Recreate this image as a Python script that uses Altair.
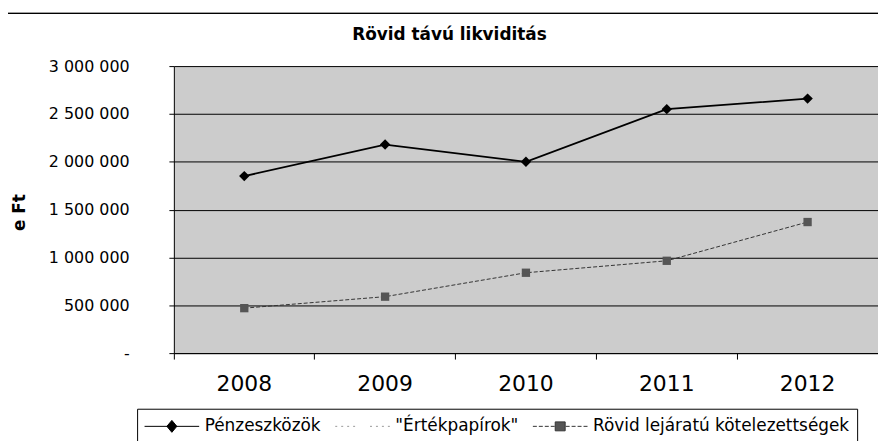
import altair as alt
import pandas as pd

years = ["2008", "2009", "2010", "2011", "2012"]
penzeszkozok = [1850000, 2180000, 2000000, 2550000, 2660000]
rovid = [470000, 590000, 840000, 965000, 1370000]
series_names = ["Pénzeszközök", "\"Értékpapírok\"", "Rövid lejáratú kötelezettségek"]
y_ticks = [0, 500000, 1000000, 1500000, 2000000, 2500000, 3000000]

rows = []
for i, yr in enumerate(years):
    rows.append({"year": yr, "series": series_names[0], "value": penzeszkozok[i]})
    rows.append({"year": yr, "series": series_names[2], "value": rovid[i]})
df = pd.DataFrame(rows)

FONT = "DejaVu Sans"
NB = "\u00a0"

x_enc = alt.X(
    "year:O",
    scale=alt.Scale(type="band", domain=years, paddingInner=0, paddingOuter=0),
    axis=alt.Axis(
        title=None, bandPosition=0, labelAngle=0,
        labelFont=FONT, labelFontSize=22, labelColor="black",
        tickSize=6, tickColor="black", domainColor="black",
        labelPadding=15, grid=False,
    ),
)
y_enc = alt.Y(
    "value:Q",
    scale=alt.Scale(domain=[0, 3000000], nice=False),
    axis=alt.Axis(
        values=y_ticks, title="e Ft",
        labelExpr="datum.value == 0 ? '-" + NB * 4 + "' : replace(format(datum.value, ','), regexp(',', 'g'), ' ')",
        grid=True, gridColor="black", gridWidth=1,
        domainColor="black", tickColor="black", tickSize=5,
        labelPadding=40, labelFont=FONT, labelFontSize=16, labelColor="black",
        titleX=-155, titleY=147, titleAngle=270, titleAlign="center",
        titleBaseline="middle", titleFontWeight="bold", titleFontSize=17,
        titleFont=FONT, titleColor="black",
    ),
)

base = alt.Chart(df)

line_p = base.transform_filter(alt.datum.series == series_names[0]).mark_line(
    color="black", strokeWidth=1.8
).encode(x=x_enc, y=y_enc)
pts_p = base.transform_filter(alt.datum.series == series_names[0]).mark_point(
    shape="diamond", filled=True, color="black", size=110, opacity=1
).encode(x=x_enc, y=y_enc)

line_r = base.transform_filter(alt.datum.series == series_names[2]).mark_line(
    color="#333333", strokeWidth=1, strokeDash=[4, 2]
).encode(x=x_enc, y=y_enc)
pts_r = base.transform_filter(alt.datum.series == series_names[2]).mark_point(
    shape="square", filled=True, color="#555555", size=70, opacity=1
).encode(x=x_enc, y=y_enc)

# legend symbols: unit box is 20px (size 400); paths reach to x=4.5 to draw a 55px sample
shape_paths = [
    "M-1,0L4.5,0M1.75,-0.6L2.25,0L1.75,0.6L1.25,0Z",
    "M-1,0L-0.8,0M-0.4,0L-0.2,0M0.2,0L0.4,0M0.8,0L1,0M2.5,0L2.7,0M3.1,0L3.3,0M3.7,0L3.9,0M4.3,0L4.5,0",
    "M-1,0L-0.6,0M-0.4,0L0,0M0.2,0L0.6,0M0.8,0L1.2,0M2.3,0L2.7,0M2.9,0L3.3,0M3.5,0L3.9,0M4.1,0L4.5,0"
    "M1.25,-0.45L2.25,-0.45L2.25,0.45L1.25,0.45Z",
]

legend = alt.Legend(
    title=None, orient="none", legendX=-37, legendY=345, direction="horizontal",
    columns=3, symbolSize=400, symbolStrokeWidth=1, labelFont=FONT,
    labelFontSize=17, labelColor="black", labelOffset=40, columnPadding=12,
    padding=7, strokeColor="black", labelLimit=400,
)

legend_layer = base.transform_filter("false").mark_point(
    filled=True, opacity=1, strokeWidth=1
).encode(
    shape=alt.Shape("series:N", scale=alt.Scale(domain=series_names, range=shape_paths), legend=legend),
    fill=alt.Fill("series:N", scale=alt.Scale(domain=series_names, range=["black", "#bbbbbb", "#555555"]), legend=legend),
    stroke=alt.Stroke("series:N", scale=alt.Scale(domain=series_names, range=["black", "#999999", "#333333"]), legend=legend),
)

# outer chart frame line along the top
frame_top = base.mark_rule(color="black", strokeWidth=1).encode(
    x=alt.value(-167), x2=alt.value(711), y=alt.value(-53)
)

chart = alt.layer(line_r, pts_r, line_p, pts_p, legend_layer, frame_top).properties(
    width=709, height=289,
    autosize=alt.AutoSizeParams(type="none"),
    padding={"left": 167, "top": 57, "right": 0, "bottom": 87},
    view=alt.ViewBackground(fill="#cccccc", stroke="transparent"),
    title=alt.TitleParams(
        "Rövid távú likviditás", font=FONT, fontSize=17, fontWeight="bold",
        anchor="middle", dx=-77, dy=69, color="black", baseline="alphabetic", offset=25,
    ),
).configure(
    font=FONT, background="white",
    view=alt.ViewConfig(fill="#cccccc", stroke="transparent"),
)

chart.save("out.html", embed_options={"renderer": "svg", "actions": False})
